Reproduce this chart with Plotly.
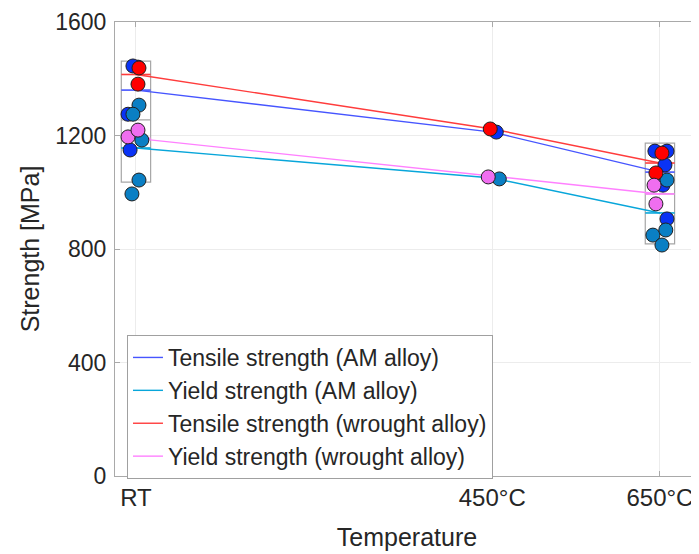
import plotly.graph_objects as go

# ---------------- data ----------------
temps = [25, 450, 650]
temp_labels = ["RT", "450°C", "650°C"]

series_names = [
    "Tensile strength (AM alloy)",
    "Yield strength (AM alloy)",
    "Tensile strength (wrought alloy)",
    "Yield strength (wrought alloy)",
]

# trend-line values at RT, 450, 650 (MPa)
tensile_am_line = [1360, 1212, 1071]
yield_am_line = [1156, 1050, 927]
tensile_wr_line = [1415, 1223, 1103]
yield_wr_line = [1190, 1057, 994]

# individual measurements: temperature, jitter (°C), value (MPa)
tensile_am_T = [25, 25, 25, 25, 450, 650, 650, 650, 650, 650]
tensile_am_dx = [2.4, -3.6, -9.5, -7.0, 4.8, -6.0, 8.4, 6.0, 3.6, 8.4]
tensile_am_v = [1441, 1445, 1275, 1149, 1212, 1145, 1145, 1096, 1025, 906]

yield_am_T = [25, 25, 25, 25, 25, 450, 650, 650, 650, 650]
yield_am_dx = [3.6, -3.6, 7.0, 3.6, -4.8, 8.4, 8.4, -8.4, 7.0, 2.4]
yield_am_v = [1307, 1275, 1184, 1043, 994, 1047, 1043, 849, 867, 814]

tensile_wr_T = [25, 25, 450, 650, 650]
tensile_wr_dx = [3.6, 2.4, -2.4, 2.4, -4.8]
tensile_wr_v = [1438, 1381, 1223, 1138, 1068]

yield_wr_T = [25, 25, 450, 650, 650]
yield_wr_dx = [-9.5, 2.4, -4.8, -7.0, -4.8]
yield_wr_v = [1195, 1219, 1054, 1025, 959]

# range boxes (RT and 650 °C)
box_T = [25, 650]
box_low = [1036, 818]
box_mid = [1255, 994]
box_high = [1462, 1173]

# ---------------- styles ----------------
line_colors = ["#4655ff", "#08a6da", "#ff3c3c", "#ff80ff"]
marker_colors = ["#0a33f5", "#0a7fc4", "#ff0000", "#f06ef0"]
box_half = 17.5

fig = go.Figure()

# boxes
fig.add_trace(go.Box(
    x=box_T, q1=box_low, q3=box_high, median=box_mid,
    lowerfence=box_low, upperfence=box_high,
    width=2 * box_half, line=dict(color="#a6a6a6", width=1.2),
    fillcolor="rgba(0,0,0,0)", showlegend=False, hoverinfo="skip",
    boxpoints=False,
))

lines = [tensile_am_line, yield_am_line, tensile_wr_line, yield_wr_line]
for name, vals, col in zip(series_names, lines, line_colors):
    # short horizontal segments across box width
    sx, sy = [], []
    for t, v in zip(temps, vals):
        if t in box_T:
            sx += [t - box_half, t + box_half, None]
            sy += [v, v, None]
    fig.add_trace(go.Scatter(x=sx, y=sy, mode="lines",
                             line=dict(color=col, width=1.6),
                             showlegend=False, hoverinfo="skip"))
    fig.add_trace(go.Scatter(x=temps, y=vals, mode="lines", name=name,
                             line=dict(color=col, width=1.4)))

points = [
    (tensile_am_T, tensile_am_dx, tensile_am_v),
    (yield_am_T, yield_am_dx, yield_am_v),
    (tensile_wr_T, tensile_wr_dx, tensile_wr_v),
    (yield_wr_T, yield_wr_dx, yield_wr_v),
]
for (T, dx, v), col in zip(points, marker_colors):
    fig.add_trace(go.Scatter(
        x=[t + d for t, d in zip(T, dx)], y=v, mode="markers",
        marker=dict(size=14, color=col, line=dict(color="#202020", width=1)),
        showlegend=False,
    ))

axis_col = "#a9a9a9"
# page body has an 8px margin, so the figure is sized/offset to compensate
fig.update_layout(
    width=691, height=546,
    margin=dict(l=107, r=0, t=14, b=78),
    paper_bgcolor="white", plot_bgcolor="white",
    font=dict(family="Liberation Sans, Arial, sans-serif", color="#262626"),
    legend=dict(
        x=0.0205, y=0.3106, xanchor="left", yanchor="top",
        bgcolor="white", bordercolor="#a0a0a0", borderwidth=1,
        font=dict(size=23, color="#262626"),
        tracegroupgap=0, itemwidth=30,
    ),
    xaxis=dict(
        range=[0, 696.6], tickvals=temps, ticktext=temp_labels,
        showgrid=True, gridcolor="#ececec", gridwidth=1,
        showline=True, linecolor=axis_col, linewidth=1.2, mirror="ticks",
        ticks="inside", ticklen=5, tickcolor=axis_col,
        tickfont=dict(size=24, color="#262626"),
        ticklabeloverflow="allow",
        title=dict(text="Temperature", font=dict(size=25, color="#262626"), standoff=18),
        zeroline=False, automargin=False,
    ),
    yaxis=dict(
        range=[0, 1600], tickvals=[0, 400, 800, 1200, 1600],
        showgrid=True, gridcolor="#ececec", gridwidth=1,
        showline=True, linecolor=axis_col, linewidth=1.2,
        ticks="inside", ticklen=5, tickcolor=axis_col,
        tickfont=dict(size=23, color="#262626"),
        ticklabeloverflow="allow", ticklabelstandoff=3,
        title=dict(text="Strength [MPa]", font=dict(size=25, color="#262626"), standoff=8),
        zeroline=False, automargin=False,
    ),
)

fig.write_html("out.html")
